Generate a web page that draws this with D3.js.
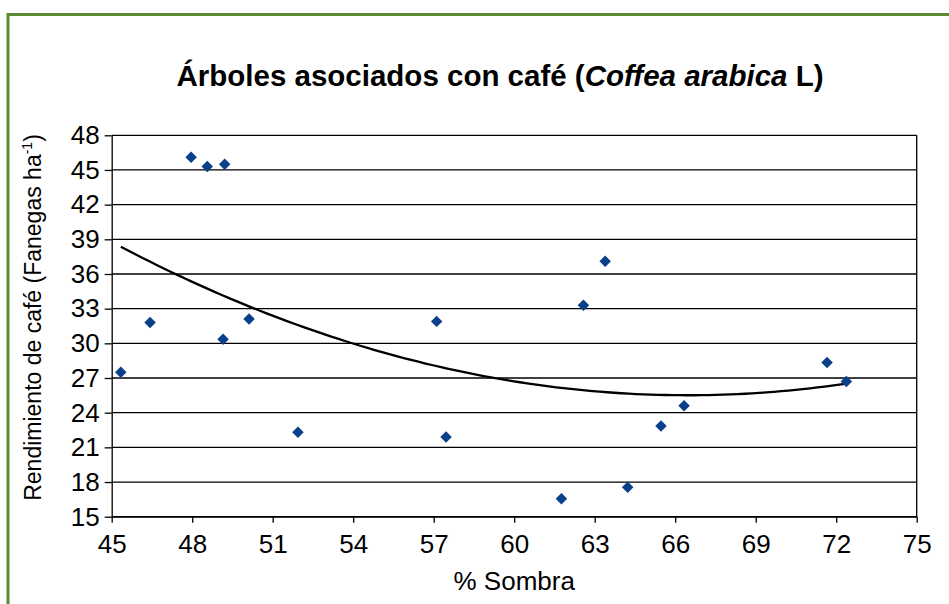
<!DOCTYPE html>
<html lang="es"><head><meta charset="utf-8">
<title>Árboles asociados con café</title>
<script src="https://cdn.jsdelivr.net/npm/d3@7"></script>
<style>
  body { margin: 0; background: #fff; }
  text { font-family: "Liberation Sans", Arial, sans-serif; fill: #000; }
</style>
</head>
<body>
<script>
    // % sombra vs rendimiento (fanegas/ha)
    var sombra = [45.34, 46.43, 47.96, 48.56, 49.21, 49.15, 50.12, 51.94, 57.11,
                  57.46, 61.76, 62.58, 63.39, 64.23, 65.47, 66.33, 71.66, 72.38];
    var rendimiento = [27.5, 31.8, 46.1, 45.3, 45.5, 30.35, 32.1, 22.3, 31.9,
                       21.9, 16.55, 33.3, 37.1, 17.55, 22.85, 24.6, 28.35, 26.7];
    var xTicks = [45, 48, 51, 54, 57, 60, 63, 66, 69, 72, 75];
    var yTicks = [15, 18, 21, 24, 27, 30, 33, 36, 39, 42, 45, 48];

    var width = 949, height = 604;
    var plotLeft = 111.7, plotRight = 916.7, plotTop = 135.3, plotBottom = 516.7;

    var svg = d3.select("body").append("svg")
        .attr("width", width)
        .attr("height", height);

    // green frame
    svg.append("rect")
        .attr("x", 8).attr("y", 14.5)
        .attr("width", width + 10).attr("height", height + 10)
        .attr("fill", "none")
        .attr("stroke", "#5b8a35")
        .attr("stroke-width", 3);

    var x = d3.scaleLinear().domain([45, 75]).range([plotLeft, plotRight]);
    var y = d3.scaleLinear().domain([15, 48]).range([plotBottom, plotTop]);

    // gridlines
    svg.append("g").selectAll("line")
        .data(yTicks).enter().append("line")
        .attr("x1", plotLeft).attr("x2", plotRight)
        .attr("y1", function (d) { return y(d); })
        .attr("y2", function (d) { return y(d); })
        .attr("stroke", "#000")
        .attr("stroke-width", 1.3);

    // right border of plot
    svg.append("line")
        .attr("x1", plotRight).attr("x2", plotRight)
        .attr("y1", plotTop).attr("y2", plotBottom)
        .attr("stroke", "#000").attr("stroke-width", 1.3);

    var xAxis = d3.axisBottom(x).tickValues(xTicks).tickSizeInner(6).tickSizeOuter(0).tickPadding(12);
    var yAxis = d3.axisLeft(y).tickValues(yTicks).tickSizeInner(7).tickSizeOuter(0).tickPadding(5);

    var gx = svg.append("g")
        .attr("transform", "translate(0," + plotBottom + ")")
        .call(xAxis);
    var gy = svg.append("g")
        .attr("transform", "translate(" + plotLeft + ",0)")
        .call(yAxis);

    [gx, gy].forEach(function (g) {
        g.selectAll("path, line").attr("stroke", "#000").attr("stroke-width", 1.3);
        g.selectAll("text")
            .attr("font-family", "Liberation Sans, Arial, sans-serif")
            .attr("font-size", 26)
            .attr("fill", "#000");
    });

    // quadratic trendline (least squares, as in the spreadsheet)
    function polyFit(xs, ys) {
        var n = xs.length, s = [0, 0, 0, 0, 0], t = [0, 0, 0];
        for (var i = 0; i < n; i++) {
            var p = 1;
            for (var k = 0; k < 5; k++) { s[k] += p; if (k < 3) t[k] += p * ys[i]; p *= xs[i]; }
        }
        var A = [[s[0], s[1], s[2], t[0]], [s[1], s[2], s[3], t[1]], [s[2], s[3], s[4], t[2]]];
        for (var c = 0; c < 3; c++) {
            for (var r = c + 1; r < 3; r++) {
                var f = A[r][c] / A[c][c];
                for (var j = c; j < 4; j++) A[r][j] -= f * A[c][j];
            }
        }
        var b = [0, 0, 0];
        for (var r2 = 2; r2 >= 0; r2--) {
            var v = A[r2][3];
            for (var j2 = r2 + 1; j2 < 3; j2++) v -= A[r2][j2] * b[j2];
            b[r2] = v / A[r2][r2];
        }
        return b;
    }
    var coef = polyFit(sombra, rendimiento);
    var xMin = d3.min(sombra), xMax = d3.max(sombra);
    var trend = d3.range(0, 101).map(function (i) {
        var xv = xMin + (xMax - xMin) * i / 100;
        return [xv, coef[0] + coef[1] * xv + coef[2] * xv * xv];
    });
    svg.append("path")
        .datum(trend)
        .attr("fill", "none")
        .attr("stroke", "#000")
        .attr("stroke-width", 2.3)
        .attr("d", d3.line()
            .x(function (d) { return x(d[0]); })
            .y(function (d) { return y(d[1]); }));

    // points
    var diamond = d3.symbol().type(d3.symbolSquare).size(66);
    svg.append("g").selectAll("path")
        .data(sombra).enter().append("path")
        .attr("d", diamond)
        .attr("fill", "#0a3f8a")
        .attr("transform", function (d, i) {
            return "translate(" + x(d) + "," + y(rendimiento[i]) + ") rotate(45)";
        });

    // title
    var title = svg.append("text")
        .attr("x", 500).attr("y", 86)
        .attr("text-anchor", "middle")
        .attr("font-size", 29.5)
        .attr("font-weight", "bold");
    title.append("tspan").text("Árboles asociados con café (");
    title.append("tspan").attr("font-style", "italic").text("Coffea arabica");
    title.append("tspan").text(" L)");

    // axis labels
    svg.append("text")
        .attr("x", (plotLeft + plotRight) / 2).attr("y", 590)
        .attr("text-anchor", "middle")
        .attr("font-size", 26)
        .text("% Sombra");

    var yl = svg.append("text")
        .attr("transform", "translate(41," + 317.5 + ") rotate(-90)")
        .attr("text-anchor", "middle")
        .attr("font-size", 23);
    yl.append("tspan").text("Rendimiento de café (Fanegas ha");
    yl.append("tspan").attr("font-size", 14).attr("dy", -9).text("-1");
    yl.append("tspan").attr("dy", 9).text(")");
</script>
</body></html>
